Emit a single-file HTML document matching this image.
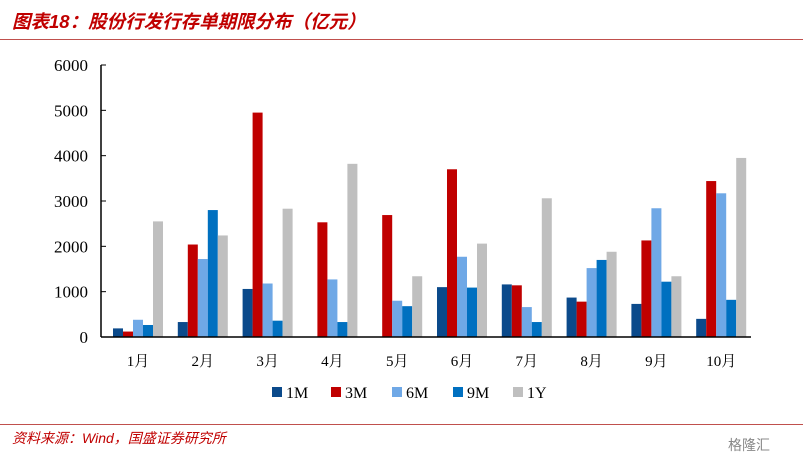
<!DOCTYPE html>
<html><head><meta charset="utf-8"><style>
body{margin:0;width:803px;height:464px;background:#fff;overflow:hidden;font-family:"Liberation Serif","Noto Serif CJK SC",serif}
.t{position:absolute;left:12px;top:8px;color:#c00000;font:italic bold 18.5px "Liberation Sans","Noto Sans CJK SC",sans-serif}
.s{position:absolute;left:12px;top:428px;color:#c00000;font:italic 14px "Liberation Sans","Noto Sans CJK SC",sans-serif}
.w{position:absolute;left:728px;top:435px;color:#888;font:14px "Noto Sans CJK SC",sans-serif}
</style></head><body>
<div class="t">图表18：股份行发行存单期限分布（亿元）</div>
<div style="position:absolute;left:0;top:39px;width:803px;height:1px;background:#c0504d"></div>
<div style="position:absolute;left:0;top:424px;width:803px;height:1px;background:#c0504d"></div>
<div class="s">资料来源：Wind，国盛证券研究所</div>
<div class="w">格隆汇</div>
<svg id="c" width="803" height="464" style="position:absolute;left:0;top:0"></svg>
<script>
const categories=["1月","2月","3月","4月","5月","6月","7月","8月","9月","10月"];
const seriesNames=["1M","3M","6M","9M","1Y"];
const s1M=[190,330,1060,0,0,1100,1160,870,730,400];
const s3M=[120,2040,4950,2530,2690,3700,1140,780,2130,3440];
const s6M=[380,1720,1180,1270,800,1770,660,1520,2840,3170];
const s9M=[265,2800,360,330,680,1090,330,1700,1220,820];
const s1Y=[2550,2240,2830,3820,1340,2060,3060,1880,1340,3950];
const yTicks=[0,1000,2000,3000,4000,5000,6000];
const colors=["#0b4a8b","#c00000","#6fa8e6","#0070c0","#bfbfbf"];
const series=[s1M,s3M,s6M,s9M,s1Y];
const svg=document.getElementById('c');const NS="http://www.w3.org/2000/svg";
const x0=101,band=64.8,y0=337,yTop=65,ymax=6000,bw=10;
const y=v=>y0-(v/ymax)*(y0-yTop);
function mk(t,a,p){const e=document.createElementNS(NS,t);for(const k in a)e.setAttribute(k,a[k]);(p||svg).appendChild(e);return e;}
series.forEach((arr,si)=>arr.forEach((v,ci)=>{
 const r=mk('rect',{x:x0+12+ci*band+si*bw,y:y(v),width:bw,height:y0-y(v),fill:colors[si]});
 
 
}));
const ax=mk('line',{x1:x0,y1:yTop,x2:x0,y2:y0,stroke:'#000','stroke-width':1.5});

const bx=mk('line',{x1:x0,y1:y0,x2:x0+band*10+2,y2:y0,stroke:'#000','stroke-width':1.5});

yTicks.forEach(v=>{
 mk('line',{x1:x0,y1:y(v),x2:x0+5,y2:y(v),stroke:'#000'});
 const t=mk('text',{x:88,y:y(v)+6,'text-anchor':'end','font-size':17});t.textContent=v;
 
});
categories.forEach((c,i)=>{
 const t=mk('text',{x:x0+12+i*band+25,y:366,'text-anchor':'middle','font-size':15});t.textContent=c;
 
});
const lx=[272,331,392,453,513];
seriesNames.forEach((n,i)=>{
 const g=mk('g',{});
 
 mk('rect',{x:lx[i],y:387,width:10,height:10,fill:colors[i]},g);
 const t=mk('text',{x:lx[i]+14,y:398,'font-size':16},g);t.textContent=n;
});
</script>
</body></html>
